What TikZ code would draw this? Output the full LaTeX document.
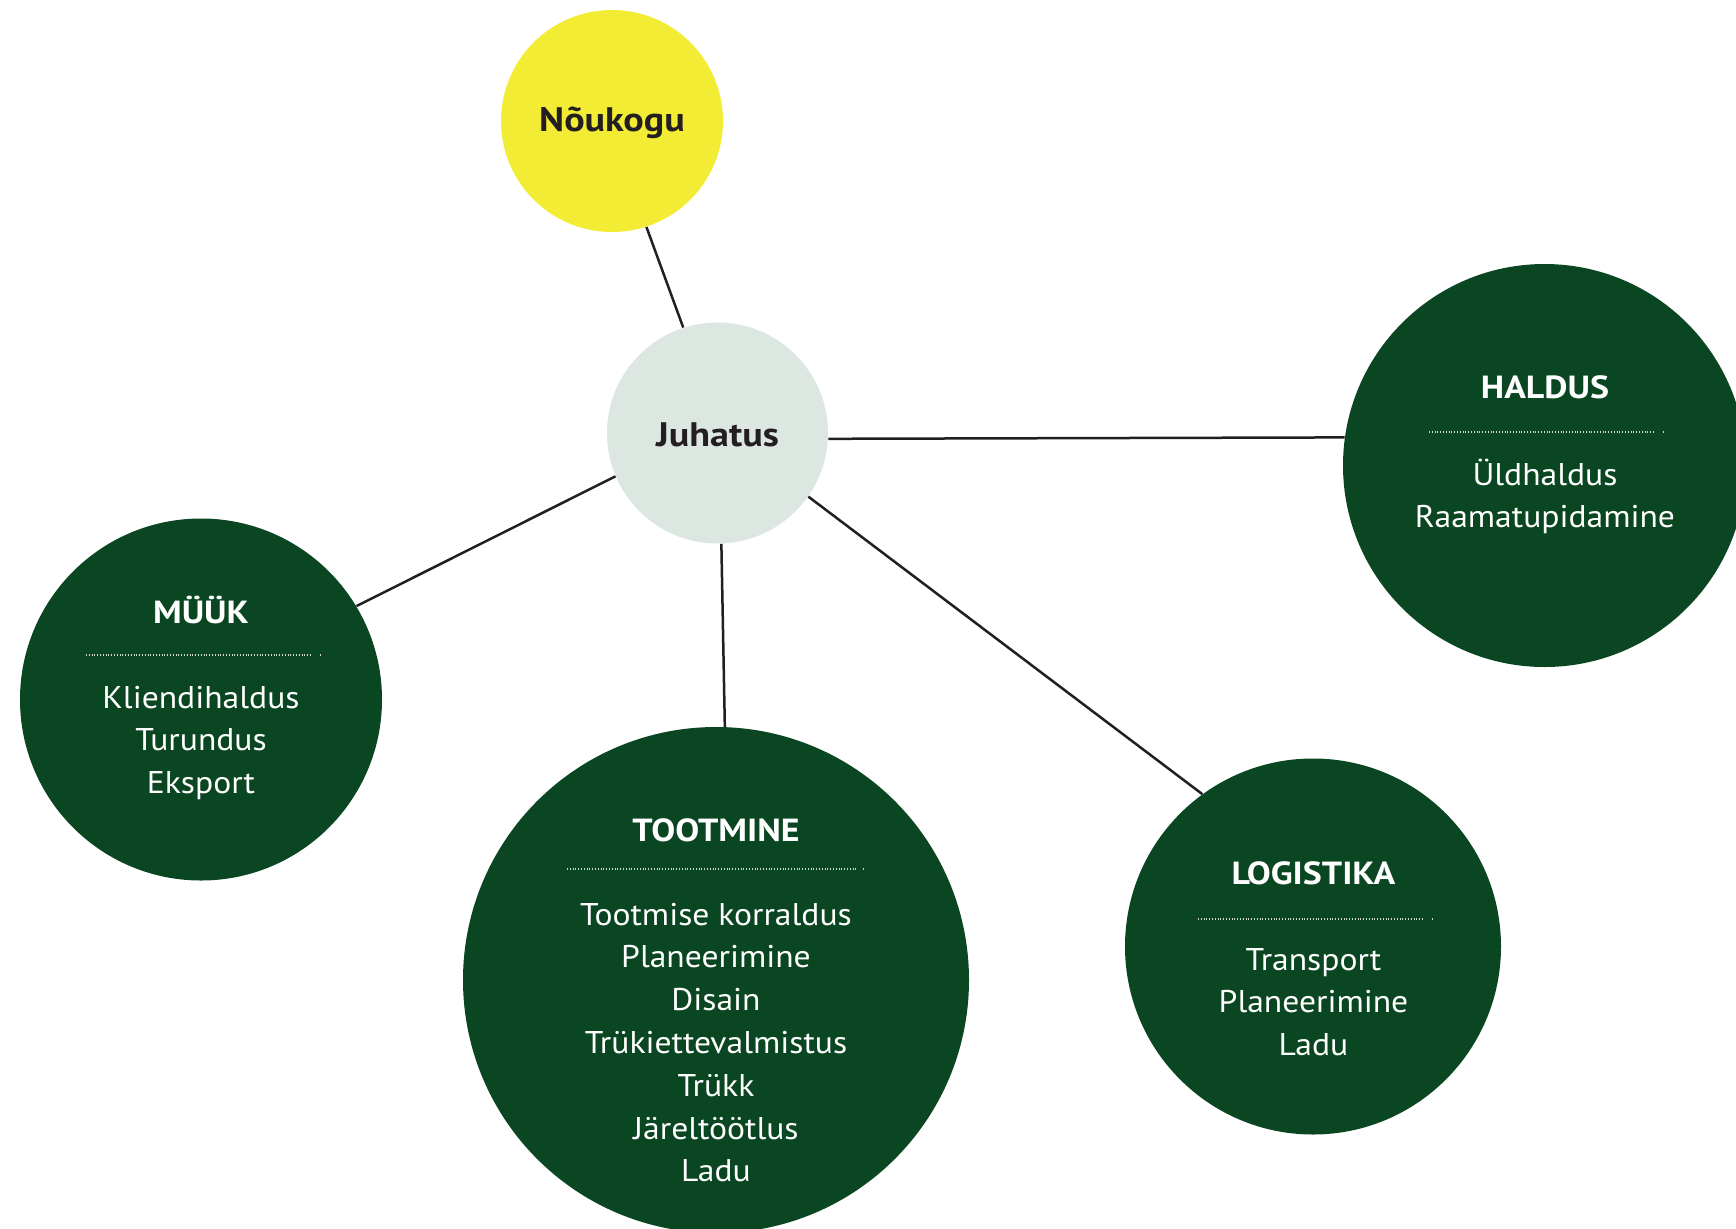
\documentclass[tikz,border=0pt]{standalone}
\usepackage{fontspec}
\setmainfont{PT Sans}
\newfontfamily\headfont{PT Sans}[FakeStretch=1.12]
\newfontfamily\itemfont{PT Sans}[FakeStretch=1.07]
\definecolor{dkgreen}{HTML}{0A4621}
\definecolor{yel}{HTML}{F3EC34}
\definecolor{pale}{HTML}{DCE7E1}
\definecolor{ink}{HTML}{231F20}
\definecolor{dotc}{HTML}{D0D8D0}
\begin{document}
\begin{tikzpicture}[x=0.5pt,y=-0.5pt,
  disc/.style={circle,inner sep=0pt,draw=none},
  dept/.style={disc,fill=dkgreen},
  toptxt/.style={anchor=base,inner sep=0pt,font=\headfont\fontsize{17}{20}\selectfont\bfseries,text=ink},
  head/.style={anchor=base,inner sep=0pt,font=\headfont\fontsize{16}{18}\selectfont\bfseries,text=white},
  item/.style={anchor=base,inner sep=0pt,font=\itemfont\fontsize{15.7}{18}\selectfont,text=white},
  link/.style={draw=ink,line width=1.25pt},
  sep/.style={draw=dotc,line width=0.55pt,dash pattern=on 0.5pt off 0.9pt}]
\useasboundingbox (0,0) rectangle (1736,1228);
\clip (0,0) rectangle (1736,1228);
\fill[white] (0,0) rectangle (1736,1228);

\node[disc,fill=yel,minimum size=111pt] (nou) at (612,121) {};
\node[disc,fill=pale,minimum size=110.5pt] (juh) at (717.5,433) {};
\node[dept,minimum size=201.5pt] (hal) at (1544.5,465.5) {};
\node[dept,minimum size=181pt] (muk) at (201,699.5) {};
\node[dept,minimum size=253pt] (too) at (716,980) {};
\node[dept,minimum size=188pt] (log) at (1313,946.5) {};

\draw[link] (nou.-72.9) -- (juh.108.3);
\draw[link] (juh.-3.6) -- (hal.172.7);
\draw[link] (juh.-157.9) -- (muk.31);
\draw[link] (juh.-88.2) -- (too.88.2);
\draw[link] (juh.-35.7) -- (log.126.8);

\node[toptxt] (noutxt) at (612,131) {Nõukogu};
\node[toptxt] (juhtxt) at (717.5,446.5) {Juhatus};

% MÜÜK
\node[head] (mukh) at (201,623) {MÜÜK};
\draw[sep] (86,655) -- (312,655);
\draw[sep] (319.5,655) -- (320.5,655);
\foreach \t [count=\i] in {Kliendihaldus,Turundus,Eksport}
  \node[item] (muk\i) at (201,{708+42.7*(\i-1)}) {\t};

% HALDUS
\node[head] (halh) at (1545,398.3) {HALDUS};
\draw[sep] (1429,432) -- (1655,432);
\draw[sep] (1662.5,432) -- (1663.5,432);
\foreach \t [count=\i] in {Üldhaldus,Raamatupidamine}
  \node[item] (hal\i) at (1545,{485+42.3*(\i-1)}) {\t};

% LOGISTIKA
\node[head] (logh) at (1313.5,884) {LOGISTIKA};
\draw[sep] (1198,919) -- (1424,919);
\draw[sep] (1431.5,919) -- (1432.5,919);
\foreach \t [count=\i] in {Transport,Planeerimine,Ladu}
  \node[item] (log\i) at (1313.5,{970+42.5*(\i-1)}) {\t};

% TOOTMINE
\node[head] (tooh) at (716,841) {TOOTMINE};
\draw[sep] (567,869) -- (858,869);
\draw[sep] (862.5,869) -- (863.5,869);
\foreach \t [count=\i] in {Tootmise korraldus,Planeerimine,Disain,Trükiettevalmistus,Trükk,Järeltöötlus,Ladu}
  \node[item] (too\i) at (716,{925+42.8*(\i-1)}) {\t};
\end{tikzpicture}
\end{document}
